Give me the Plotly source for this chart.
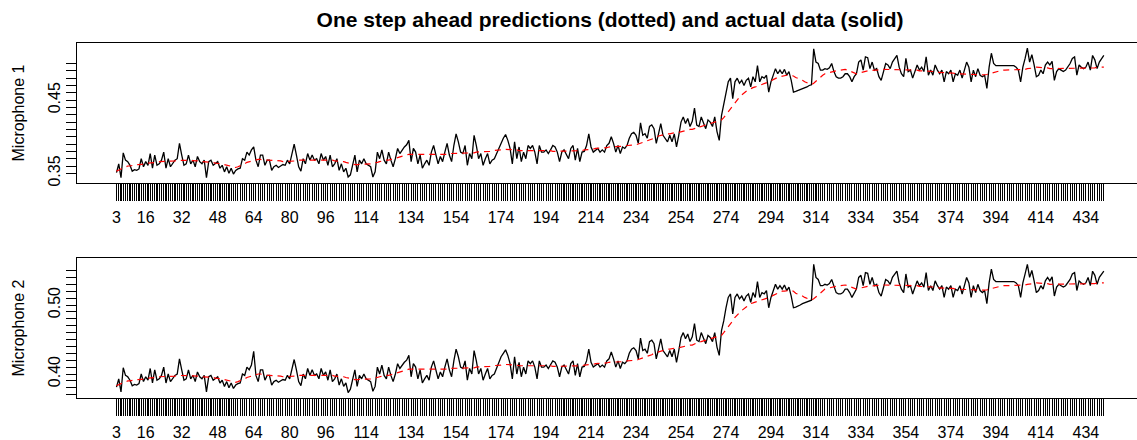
import plotly.graph_objects as go

# ---------------- data (values in thousandths) ----------------
start_index = 3
mic1_actual_milli = [
351,363,344,378,368,366,361,353,355,354,
356,370,359,366,361,377,357,375,361,363,
368,379,357,370,359,363,368,370,391,375,
361,363,375,363,368,359,373,366,363,368,
344,366,368,361,363,366,357,361,352,359,
350,357,349,354,356,357,370,368,379,375,
382,386,368,359,375,375,361,368,368,354,
359,361,358,360,362,361,368,363,377,390,
375,359,353,370,363,377,368,375,368,370,
363,377,368,373,361,375,359,363,370,354,
363,352,357,345,348,361,375,
352,368,363,370,363,361,359,345,352,379,
370,382,368,363,379,368,359,370,384,377,
382,386,389,395,366,384,379,363,375,357,
363,368,361,379,388,375,363,373,366,379,
391,375,366,388,404,393,379,377,388,361,
377,370,402,388,370,377,361,370,377,363,
368,370,377,384,393,398,403,395,384,363,
393,370,386,366,379,370,388,384,388,379,
363,388,379,379,382,377,382,388,386,
379,366,379,382,375,370,384,388,368,384,
366,379,380,388,404,386,379,382,384,379,
382,379,388,391,
400,391,379,388,377,386,384,388,398,404,
406,402,391,419,402,404,398,414,416,411,
391,404,418,402,398,393,402,393,404,386,
402,420,427,418,425,414,421,439,416,414,
427,418,411,423,420,414,427,407,395,
429,443,461,475,480,452,475,480,473,477,
470,477,480,468,482,475,497,475,482,
480,484,461,475,484,493,486,491,486,492,
484,489,477,461,
462,463,465,466,467,468,470,
471,520,
502,500,491,491,493,492,494,500,489,482,480,480,482,486,486,482,475,482,
486,502,505,491,509,508,493,502,491,493,
482,477,489,500,498,493,502,507,511,495,
486,482,507,489,491,480,489,498,491,495,
489,509,484,491,484,498,491,486,491,
475,489,486,491,475,486,484,491,480,491,
502,495,475,491,482,493,484,482,484,466,
495,514,500,
497,497,497,497,497,497,497,497,497,
495,491,475,495,507,521,502,512,498,482,
484,491,486,498,502,498,503,477,489,493,
491,489,491,495,500,507,509,484,498,495,
493,495,502,491,511,505,493,502,507,511,
]

mic1_pred_milli = [
353,355,356,357,359,360,360,361,361,362,
362,362,363,363,364,364,365,365,365,366,
366,366,366,367,367,367,367,368,368,368,
368,368,368,368,368,367,367,367,366,366,
366,366,365,365,364,364,363,363,362,361,
360,359,359,358,359,360,362,363,365,366,
367,368,369,369,369,368,368,368,368,368,
368,367,367,367,366,366,366,366,366,367,
367,368,368,368,368,369,369,369,369,369,
369,368,368,368,368,368,368,367,367,367,
366,366,365,364,363,363,362,362,362,362,
362,363,363,363,364,364,365,366,367,367,
368,368,369,370,371,372,373,374,375,375,
376,376,376,375,375,375,375,375,375,375,
375,375,375,375,376,376,376,376,377,377,
377,377,377,378,378,378,378,378,378,378,
379,379,379,379,380,380,380,381,381,381,
382,382,383,383,383,383,382,382,382,381,
381,381,381,381,382,382,382,382,382,382,
381,381,381,381,380,380,380,380,380,380,
380,380,380,380,380,381,381,381,382,382,
383,383,383,384,384,384,385,385,385,386,
386,386,386,386,387,387,387,388,388,388,
389,389,390,391,392,393,394,395,396,398,
399,401,402,402,403,404,404,405,405,406,
406,407,408,408,409,410,410,411,412,413,
414,415,416,417,418,419,420,421,422,423,
426,430,434,438,443,447,451,454,457,460,
462,464,466,467,468,469,470,471,472,473,
474,476,478,480,481,482,483,483,484,484,
484,483,481,480,478,477,475,474,472,471,
473,476,479,482,484,486,487,488,489,490,
490,491,491,492,492,491,490,489,487,486,
487,488,489,489,490,490,491,491,491,492,
492,492,492,492,492,492,492,492,492,492,
492,491,491,491,491,491,491,490,490,490,
490,490,489,489,489,488,488,488,488,487,
487,487,487,486,486,486,486,485,485,485,
485,485,485,484,484,484,484,485,486,487,
488,489,490,490,491,491,491,491,491,491,
491,492,492,492,492,493,493,494,494,495,
495,495,494,494,494,493,493,493,493,493,
493,493,493,493,493,493,493,493,493,493,
493,493,494,494,494,494,495,495,495,495,
]

mic2_actual_milli = [
381,393,374,409,398,396,391,383,385,384,
386,400,389,396,391,408,387,406,391,393,
398,410,387,400,389,393,398,400,422,406,
391,393,406,393,398,389,403,396,393,398,
374,396,398,391,393,396,387,391,382,389,
380,387,379,384,386,387,400,398,410,406,
413,433,398,389,406,406,391,398,398,384,
389,391,388,390,392,391,398,393,408,421,
406,389,383,400,393,408,398,406,398,400,
393,408,398,403,391,406,389,393,400,384,
393,382,387,373,378,391,406,
382,398,393,400,393,391,389,375,382,410,
400,413,398,393,410,398,389,400,415,408,
413,417,420,427,396,415,410,393,406,387,
393,398,391,410,419,406,393,403,396,410,
422,406,396,419,436,425,410,408,419,391,
408,400,434,419,400,408,391,400,408,393,
398,400,408,415,425,430,435,427,415,393,
425,400,417,396,410,400,419,415,419,410,
393,419,410,410,413,408,413,419,417,
410,396,410,413,406,400,415,419,398,415,
396,410,411,419,436,417,410,413,415,410,
413,410,419,422,
432,422,410,419,408,417,415,419,430,436,
438,434,422,452,434,436,430,447,449,444,
422,436,451,434,430,425,434,425,436,417,
434,453,460,451,458,447,454,473,449,447,
460,451,444,456,453,447,460,439,427,
463,477,496,511,516,487,511,516,509,513,
506,513,516,504,518,511,534,511,518,
516,521,496,511,521,530,523,528,523,529,
521,526,513,496,
497,498,500,502,503,504,506,
507,559,
540,537,528,528,530,529,531,537,526,518,516,516,518,523,523,518,511,518,
523,540,543,528,547,546,530,540,528,530,
518,513,526,537,535,530,540,545,549,532,
523,518,545,526,528,516,526,535,528,532,
526,547,521,528,521,535,528,523,528,
511,526,523,528,511,523,521,528,516,528,
540,532,511,528,518,530,521,518,521,502,
532,552,537,
534,534,534,534,534,534,534,534,534,
532,528,511,532,545,559,540,550,535,518,
521,528,523,535,540,535,541,513,526,530,
528,526,528,532,537,545,547,521,535,532,
530,532,540,528,549,543,530,540,545,549,
]

mic2_pred_milli = [
383,385,386,387,389,390,390,391,391,392,
392,392,393,393,394,394,395,395,395,396,
396,396,396,397,397,397,397,398,398,398,
398,398,398,398,398,397,397,397,396,396,
396,396,395,395,394,394,393,393,392,391,
390,389,389,388,389,390,392,393,395,396,
397,398,400,400,400,399,398,398,398,398,
398,397,397,397,396,396,396,396,396,397,
397,398,398,398,398,399,399,399,399,399,
399,398,398,398,398,398,398,397,397,397,
396,396,395,394,393,393,392,392,392,392,
392,393,393,393,394,394,395,396,397,397,
398,398,399,400,401,402,403,404,406,406,
407,407,407,406,406,406,406,406,406,406,
406,406,406,406,407,407,407,407,408,408,
408,408,408,409,409,409,409,409,409,409,
410,410,410,410,411,411,411,412,412,412,
413,413,414,414,414,414,413,413,413,412,
412,412,412,412,413,413,413,413,413,413,
412,412,412,412,411,411,411,411,411,411,
411,411,411,411,411,412,412,412,413,413,
414,414,414,415,415,415,416,416,416,417,
417,417,417,417,418,418,418,419,419,419,
420,420,421,422,423,425,426,427,428,430,
431,433,434,434,435,436,436,437,437,438,
438,439,440,440,441,442,442,444,445,446,
447,448,449,450,451,452,453,454,455,456,
460,464,468,472,477,482,486,489,492,495,
497,499,502,503,504,505,506,507,508,509,
510,512,514,516,517,518,520,520,521,521,
521,520,517,516,514,513,511,510,508,507,
509,512,515,518,521,523,524,525,526,527,
527,528,528,529,529,528,527,526,524,523,
524,525,526,526,527,527,528,528,528,529,
529,529,529,529,529,529,529,529,529,529,
529,528,528,528,528,528,528,527,527,527,
527,527,526,526,526,525,525,525,525,524,
524,524,524,523,523,523,523,522,522,522,
522,522,522,521,521,521,521,522,523,524,
525,526,527,527,528,528,528,528,528,528,
528,529,529,529,529,530,530,531,531,532,
532,532,531,531,531,530,530,530,530,530,
530,530,530,530,530,530,530,530,530,530,
530,530,531,531,531,531,532,532,532,532,
]

x_labels_shown = [3, 16, 32, 48, 64, 80, 96, 114, 134, 154, 174, 194, 214,
                  234, 254, 274, 294, 314, 334, 354, 374, 394, 414, 434]
y1_ticks = [0.35, 0.36, 0.37, 0.38, 0.39, 0.40, 0.41, 0.42, 0.43, 0.44,
            0.45, 0.46, 0.47, 0.48, 0.49, 0.50]
y1_labels_shown = ["0.35", "0.45"]
y2_ticks = [0.37, 0.38, 0.39, 0.40, 0.41, 0.42, 0.43, 0.44, 0.45, 0.46,
            0.47, 0.48, 0.49, 0.50, 0.51, 0.52, 0.53, 0.54, 0.55]
y2_labels_shown = ["0.40", "0.50"]

title_text = "One step ahead predictions (dotted) and actual data (solid)"
panel_names = ["Microphone 1", "Microphone 2"]

# ---------------- build ----------------
n = len(mic1_actual_milli)
x = list(range(start_index, start_index + n))
m1a = [v / 1000 for v in mic1_actual_milli]
m1p = [v / 1000 for v in mic1_pred_milli]
m2a = [v / 1000 for v in mic2_actual_milli]
m2p = [v / 1000 for v in mic2_pred_milli]

W, H = 1137, 440
FONT = "Liberation Sans, Arial, Helvetica, sans-serif"
DASH = "6px,5px"

fig = go.Figure()
fig.add_trace(go.Scatter(x=x, y=m1a, mode="lines", line=dict(color="black", width=1.3),
                         xaxis="x", yaxis="y", showlegend=False, hoverinfo="skip"))
fig.add_trace(go.Scatter(x=x, y=m1p, mode="lines", line=dict(color="#ff0000", width=1.2, dash=DASH),
                         xaxis="x", yaxis="y", showlegend=False, hoverinfo="skip"))
fig.add_trace(go.Scatter(x=x, y=m2a, mode="lines", line=dict(color="black", width=1.3),
                         xaxis="x2", yaxis="y2", showlegend=False, hoverinfo="skip"))
fig.add_trace(go.Scatter(x=x, y=m2p, mode="lines", line=dict(color="#ff0000", width=1.2, dash=DASH),
                         xaxis="x2", yaxis="y2", showlegend=False, hoverinfo="skip"))

def fmt_label(v, shown):
    s = f"{v:.2f}"
    return s if s in shown else ""

ticktext_x = [str(v) if v in x_labels_shown else "" for v in x]

left_px = 77.0
x_range = [-14.56, 456.75]
xdom = [left_px / W, 1.0]

def y_dom(top_px, bottom_px):
    return [1 - bottom_px / H, 1 - top_px / H]

xaxis_common = dict(
    range=x_range, domain=xdom, showgrid=False, zeroline=False,
    showline=True, mirror=True, linecolor="black", linewidth=1,
    ticks="outside", ticklen=17, tickwidth=1.1, tickcolor="black",
    tickmode="array", tickvals=x, ticktext=ticktext_x,
    tickfont=dict(family=FONT, size=16, color="black"),
    ticklabelstandoff=2, fixedrange=True, automargin=False,
)
yaxis_common = dict(
    showgrid=False, zeroline=False, showline=True, mirror=False,
    linecolor="black", linewidth=1, ticks="outside", ticklen=10,
    tickwidth=1, tickcolor="black", tickmode="array", tickangle=-90,
    tickfont=dict(family=FONT, size=16, color="black"), fixedrange=True,
    automargin=False,
)

fig.update_layout(
    width=W, height=H,
    margin=dict(l=0, r=0, t=0, b=0, autoexpand=False),
    paper_bgcolor="white", plot_bgcolor="white",
    xaxis=dict(**xaxis_common, anchor="y"),
    xaxis2=dict(**xaxis_common, anchor="y2"),
    yaxis=dict(**yaxis_common, anchor="x", domain=y_dom(42.5, 183.3),
               range=[0.3364, 0.5287], tickvals=y1_ticks,
               ticktext=[fmt_label(v, y1_labels_shown) for v in y1_ticks]),
    yaxis2=dict(**yaxis_common, anchor="x2", domain=y_dom(258.3, 398.3),
                range=[0.3648, 0.5677], tickvals=y2_ticks,
                ticktext=[fmt_label(v, y2_labels_shown) for v in y2_ticks]),
    title=dict(text="<b>" + title_text + "</b>", x=610 / W, xanchor="center",
               y=1 - 20 / H, yanchor="middle",
               font=dict(family=FONT, size=21, color="black")),
    annotations=[
        dict(text=panel_names[0], textangle=-90, x=17.5 / W, y=1 - 113 / H,
             xref="paper", yref="paper", showarrow=False, xanchor="center", yanchor="middle",
             font=dict(family=FONT, size=16, color="black")),
        dict(text=panel_names[1], textangle=-90, x=17.5 / W, y=1 - 328 / H,
             xref="paper", yref="paper", showarrow=False, xanchor="center", yanchor="middle",
             font=dict(family=FONT, size=16, color="black")),
    ],
)

fig.write_html(
    "out.html",
    config={"displayModeBar": False, "staticPlot": True},
    post_script="document.body.style.margin='0';document.body.style.padding='0';"
                "document.documentElement.style.overflow='hidden';",
)
